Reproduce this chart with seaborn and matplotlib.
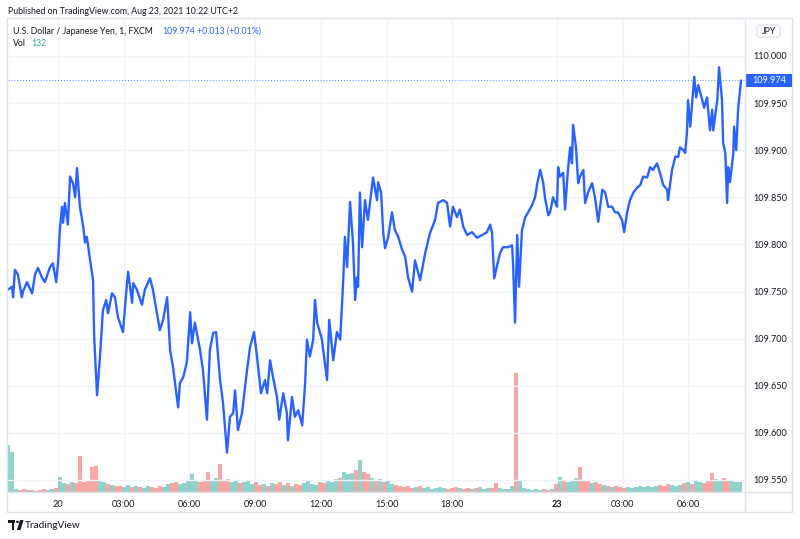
import numpy as np
import pandas as pd
import matplotlib
matplotlib.use("Agg")
import matplotlib.pyplot as plt
import matplotlib.transforms as mtransforms
from matplotlib.patches import Rectangle, FancyBboxPatch, Circle, Polygon
from matplotlib.lines import Line2D
import seaborn as sns

# USD/JPY 1-minute, FXCM (minutes from first bar, price)
minutes = [0, 11, 14, 19, 27, 38, 41, 52, 66, 74, 82, 93, 101, 115, 123, 132, 137, 142, 148, 151,
           156, 164, 170, 178, 184, 189, 197, 206, 211, 216, 225, 233, 236, 244, 252, 260, 269, 274, 285, 293,
           301, 315, 326, 329, 340, 343, 353, 367, 375, 389, 397, 408, 416, 425, 436, 444, 452, 466, 471, 480,
           490, 499, 504, 512, 526, 534, 545, 553, 562, 570, 581, 589, 600, 608, 617, 622, 630, 641, 655, 663,
           674, 682, 693, 704, 710, 718, 726, 737, 743, 754, 764, 767, 778, 786, 795, 806, 814, 819, 827, 836,
           841, 847, 860, 874, 880, 891, 901, 910, 918, 923, 929, 937, 945, 951, 956, 959, 964, 970, 978, 986,
           1000, 1011, 1014, 1022, 1028, 1033, 1041, 1052, 1060, 1069, 1080, 1088, 1096, 1107, 1115, 1129, 1143, 1156, 1170, 1178,
           1192, 1203, 1211, 1219, 1230, 1238, 1247, 1258, 1271, 1285, 1299, 1312, 1321, 1326, 1332, 1340, 1348, 1356, 1370, 1381,
           1384, 1389, 1395, 1400, 1408, 1417, 1425, 1436, 1444, 1450, 1458, 1466, 1471, 1480, 1485, 1493, 1504, 1507, 1512, 1521,
           1526, 1534, 1540, 1545, 1548, 1556, 1562, 1567, 1576, 1581, 1589, 1600, 1608, 1617, 1628, 1636, 1644, 1655, 1663, 1671,
           1682, 1688, 1696, 1704, 1713, 1723, 1732, 1740, 1751, 1759, 1767, 1778, 1786, 1795, 1806, 1808, 1819, 1828, 1836, 1841,
           1850, 1855, 1860, 1863, 1869, 1877, 1880, 1885, 1891, 1902, 1907, 1915, 1923, 1929, 1932, 1943, 1948, 1956, 1959, 1965,
           1970, 1973, 1978, 1987, 1989, 1995, 2000, 2008]
prices = [109.752, 109.755, 109.744, 109.773, 109.768, 109.744, 109.750, 109.760, 109.748, 109.768, 109.775, 109.765, 109.760, 109.776, 109.780, 109.760, 109.780, 109.815, 109.840, 109.823,
          109.844, 109.821, 109.872, 109.865, 109.850, 109.881, 109.840, 109.819, 109.802, 109.808, 109.783, 109.762, 109.702, 109.640, 109.681, 109.730, 109.741, 109.727, 109.748, 109.744,
          109.723, 109.707, 109.759, 109.771, 109.738, 109.759, 109.752, 109.736, 109.752, 109.764, 109.752, 109.727, 109.709, 109.720, 109.744, 109.688, 109.670, 109.627, 109.653, 109.659,
          109.675, 109.728, 109.695, 109.717, 109.688, 109.667, 109.614, 109.688, 109.706, 109.707, 109.656, 109.632, 109.579, 109.617, 109.621, 109.645, 109.603, 109.621, 109.667, 109.691,
          109.707, 109.681, 109.642, 109.656, 109.642, 109.677, 109.659, 109.638, 109.614, 109.642, 109.621, 109.592, 109.638, 109.617, 109.624, 109.608, 109.653, 109.699, 109.681, 109.699,
          109.741, 109.717, 109.699, 109.656, 109.720, 109.677, 109.707, 109.699, 109.759, 109.808, 109.776, 109.845, 109.802, 109.741, 109.765, 109.755, 109.855, 109.797, 109.847, 109.826,
          109.871, 109.847, 109.866, 109.855, 109.812, 109.796, 109.807, 109.834, 109.815, 109.808, 109.794, 109.787, 109.765, 109.750, 109.783, 109.762, 109.791, 109.812, 109.826, 109.844,
          109.847, 109.844, 109.819, 109.840, 109.829, 109.837, 109.819, 109.810, 109.813, 109.807, 109.810, 109.813, 109.821, 109.812, 109.764, 109.778, 109.791, 109.797, 109.797, 109.799,
          109.776, 109.717, 109.810, 109.755, 109.815, 109.829, 109.834, 109.842, 109.850, 109.865, 109.879, 109.866, 109.850, 109.831, 109.834, 109.850, 109.840, 109.882, 109.872, 109.876,
          109.837, 109.879, 109.903, 109.886, 109.927, 109.903, 109.865, 109.872, 109.879, 109.844, 109.855, 109.865, 109.850, 109.824, 109.858, 109.855, 109.840, 109.840, 109.834, 109.834,
          109.826, 109.813, 109.834, 109.847, 109.855, 109.860, 109.863, 109.872, 109.871, 109.882, 109.879, 109.886, 109.876, 109.863, 109.858, 109.847, 109.879, 109.893, 109.893, 109.903,
          109.900, 109.897, 109.919, 109.953, 109.925, 109.964, 109.978, 109.956, 109.969, 109.953, 109.945, 109.956, 109.921, 109.943, 109.921, 109.953, 109.988, 109.953, 109.908, 109.897,
          109.844, 109.882, 109.866, 109.897, 109.925, 109.900, 109.943, 109.974]

# volume, sampled every ~11 minutes
volumes = [611, 520, 39, 26, 39, 26, 26, 13, 26, 39, 26, 39, 52, 195, 117, 104, 130, 117, 468, 130,
           156, 325, 338, 156, 130, 104, 91, 78, 78, 65, 91, 65, 78, 65, 52, 78, 65, 52, 78, 65,
           104, 117, 130, 104, 117, 156, 234, 143, 130, 156, 260, 143, 182, 364, 156, 169, 130, 143, 117, 130,
           143, 104, 130, 91, 104, 78, 117, 104, 130, 91, 117, 78, 104, 91, 117, 156, 104, 91, 130, 117,
           156, 130, 169, 182, 260, 234, 247, 286, 416, 260, 234, 182, 156, 169, 130, 143, 104, 91, 78, 65,
           78, 52, 65, 78, 52, 65, 39, 52, 65, 52, 39, 52, 65, 52, 39, 52, 39, 52, 65, 39,
           52, 52, 117, 52, 39, 39, 78, 1547, 156, 52, 39, 26, 39, 26, 39, 26, 39, 104, 195, 156,
           130, 143, 182, 325, 156, 143, 117, 130, 104, 91, 78, 65, 78, 65, 52, 65, 52, 65, 78, 65,
           78, 65, 78, 91, 78, 104, 91, 78, 91, 117, 130, 104, 156, 130, 117, 143, 247, 169, 156, 182,
           156, 143, 130, 132]
vol_step = 10.96

tick_minutes = [137, 317, 497, 677, 857, 1037, 1217, 1504, 1684, 1864]
tick_labels = ["20", "03:00", "06:00", "09:00", "12:00", "15:00", "18:00", "23", "03:00", "06:00"]
price_ticks = [109.55, 109.60, 109.65, 109.70, 109.75, 109.80, 109.85, 109.90, 109.95, 110.00]

last_price = 109.974
change_text = "+0.013 (+0.01%)"
last_vol = 132

BLUE = "#2962ff"
TEAL = "#26a69a"
TEXT = "#131722"
BORDER = "#e0e3eb"
GRID = "#f0f3fa"

sns.set_style("white")
plt.rcParams["font.family"] = ["Lato", "DejaVu Sans"]

W, H = 800, 539
fig = plt.figure(figsize=(W / 100, H / 100), dpi=100)


def fx(px):
    return px / W


def fy(py):
    return 1 - py / H


rect = [fx(8), fy(492), fx(745) - fx(8), fy(18) - fy(492)]
ax_vol = fig.add_axes(rect)
ax = fig.add_axes(rect, sharex=ax_vol)
ax.patch.set_visible(False)

# volume bars, coloured by price direction
vol_t = np.arange(len(volumes)) * vol_step
p_now = np.interp(vol_t, minutes, prices)
p_prev = np.interp(vol_t - vol_step, minutes, prices)
vol_colors = np.where(p_now >= p_prev, TEAL, "#ef5350")
ax_vol.bar(vol_t, volumes, width=10, color=vol_colors, alpha=0.5, linewidth=0)
ax_vol.set_ylim(0, 6160)
ax_vol.set_yticks([])
for t in tick_minutes:
    ax_vol.axvline(t, color=GRID, lw=1, zorder=0)

df = pd.DataFrame({"minute": minutes, "price": prices})
sns.lineplot(data=df, x="minute", y="price", ax=ax, color=BLUE, lw=1.7, zorder=3)

for p in price_ticks:
    ax.axhline(p, color=GRID, lw=1, zorder=0)
ax.axhline(last_price, color=BLUE, lw=0.7, ls=(0, (1, 2)), alpha=0.8, zorder=2)

ax.set_xlim(0, 2019)
ax.set_ylim(109.5372, 110.0403)
ax.set_xlabel("")
ax.set_ylabel("")
ax.set_xticks(tick_minutes)
ax.set_xticklabels(tick_labels)
for lbl in ax.get_xticklabels():
    if lbl.get_text() == "23":
        lbl.set_fontweight("bold")
ax.yaxis.tick_right()
ax.set_yticks(price_ticks)
ax.set_yticklabels([f"{p:.3f}" for p in price_ticks])
ax.tick_params(axis="both", length=0, labelsize=6.6, labelcolor=TEXT)
ax.tick_params(axis="x", pad=6)
ax.tick_params(axis="y", pad=6)
for a in (ax, ax_vol):
    for s in a.spines.values():
        s.set_visible(False)
ax_vol.tick_params(axis="x", labelbottom=False, length=0)

# frame of the chart panel
fig.add_artist(Rectangle((fx(7), fy(512)), fx(792) - fx(7), fy(18) - fy(512),
                         transform=fig.transFigure, fill=False, ec=BORDER, lw=1))
fig.add_artist(Line2D([fx(745), fx(745)], [fy(18), fy(512)], transform=fig.transFigure, color=BORDER, lw=1))
fig.add_artist(Line2D([fx(7), fx(792)], [fy(492), fy(492)], transform=fig.transFigure, color=BORDER, lw=1))

# last price label on the price scale
blend = mtransforms.blended_transform_factory(fig.transFigure, ax.transData)
box_h = 0.0138
fig.add_artist(Rectangle((fx(746), last_price - box_h / 2), fx(792) - fx(746), box_h,
                         transform=blend, fc=BLUE, ec="none"))
fig.add_artist(plt.Text(fx(769), last_price, f"{last_price:.3f}", transform=blend, color="white",
                        fontsize=6.6, ha="center", va="center"))

# currency tag
fig.add_artist(FancyBboxPatch((fx(757), fy(37)), fx(780) - fx(757), fy(25) - fy(37),
                              boxstyle="round,pad=0,rounding_size=0.004", transform=fig.transFigure,
                              fc="white", ec=BORDER, lw=1))
fig.text(fx(768.5), fy(31), "JPY", fontsize=6.3, color=TEXT, ha="center", va="center")

# header and legend
fs = 6.3
fig.text(fx(8), fy(11), "Published on TradingView.com, Aug 23, 2021 10:22 UTC+2",
         fontsize=fs, color=TEXT, ha="left", va="center")
fig.text(fx(13), fy(31), "U.S. Dollar / Japanese Yen, 1, FXCM", fontsize=fs, color=TEXT, ha="left", va="center")
fig.text(fx(162), fy(31), f"{last_price:.3f}", fontsize=fs, color=BLUE, ha="left", va="center")
fig.text(fx(197), fy(31), change_text, fontsize=fs, color=BLUE, ha="left", va="center")
fig.text(fx(13), fy(44), "Vol", fontsize=fs, color=TEXT, ha="left", va="center")
fig.text(fx(31), fy(44), str(last_vol), fontsize=fs, color=TEAL, ha="left", va="center")

# TradingView mark
fig.add_artist(Rectangle((fx(8), fy(523)), fx(15) - fx(8), fy(520) - fy(523), transform=fig.transFigure,
                         fc=TEXT, ec="none"))
fig.add_artist(Rectangle((fx(11.5), fy(530)), fx(14.5) - fx(11.5), fy(520) - fy(530), transform=fig.transFigure,
                         fc=TEXT, ec="none"))
fig.add_artist(Circle((fx(17.5), fy(521.8)), 1.6 / W, transform=fig.transFigure, fc=TEXT, ec="none"))
fig.add_artist(Polygon([(fx(20), fy(520)), (fx(23.5), fy(520)), (fx(20.5), fy(530)), (fx(17), fy(530))],
                       closed=True, transform=fig.transFigure, fc=TEXT, ec="none"))
fig.text(fx(25), fy(525.5), "TradingView", fontsize=7.2, color=TEXT, ha="left", va="center")

fig.savefig("out.png", dpi=100, facecolor="white")
